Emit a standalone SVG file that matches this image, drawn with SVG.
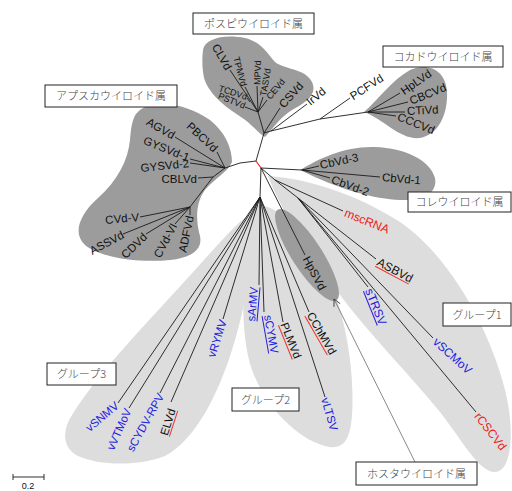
<svg xmlns="http://www.w3.org/2000/svg" width="512" height="491" viewBox="0 0 512 491">
<defs>
<style>
.dk{fill:#9c9c9c}
.lt{fill:#dddddd}
.ln{stroke:#1a1a1a;stroke-width:0.9;fill:none}
.t{font-family:"Liberation Sans",Arial,sans-serif;font-size:11.5px;fill:#111}
.s{font-size:9px}
.g{font-size:12px}
.b{fill:#2020e0}
.r{fill:#ee2020}
.box{fill:#fff;stroke:#222;stroke-width:1}
.jp{font-family:"Noto Sans CJK JP",sans-serif;font-size:11px;fill:#444;font-weight:300}
.ur{stroke:#ee3030;stroke-width:1}
.ub{stroke:#2020e0;stroke-width:1}
</style>
<marker id="ah" markerWidth="8" markerHeight="8" refX="7" refY="4" orient="auto" markerUnits="userSpaceOnUse">
<path d="M0,0.5 L7,4 L0,7.5" fill="none" stroke="#333" stroke-width="0.8"/>
</marker>
</defs>
<rect width="512" height="491" fill="#fff"/>
<g id="blobs">
<path id="g1blob" class="lt" d="M268,176 C300,178 350,190 400,222 C450,256 490,330 505,390 C515,430 512,470 496,472 C480,474 462,440 440,412 C410,375 370,335 340,295 C315,262 285,220 268,176 Z"/>
<path id="g2blob" class="lt" d="M258,205 C275,205 300,225 325,270 C345,310 355,370 352,415 C350,445 340,450 325,446 C295,438 265,405 252,370 C240,335 242,280 248,240 C250,220 252,208 258,205 Z"/>
<path id="g3blob" class="lt" d="M252,212 C256,240 248,300 232,350 C218,395 195,440 165,456 C140,466 100,466 78,456 C62,448 62,430 72,415 C100,370 150,320 195,270 C220,242 240,220 252,212 Z"/>
<path id="apsblob" class="dk" d="M136,114 C148,98 185,102 210,120 C225,132 232,148 232,162 C228,172 215,178 205,190 C195,203 196,222 200,236 C203,250 190,258 170,260 C140,263 100,258 85,245 C72,233 80,214 98,198 C118,180 128,160 130,140 C131,128 132,120 136,114 Z"/>
<path id="posblob" class="dk" d="M203,50 C205,38 225,34 245,38 C262,42 268,55 275,62 C285,70 305,68 312,82 C318,95 305,103 292,110 C280,117 272,130 265,137 C258,133 250,122 238,115 C222,105 208,92 204,78 C202,68 202,58 203,50 Z"/>
<path id="cocblob" class="dk" d="M364,112 C378,100 392,80 410,70 C428,62 446,70 447,92 C448,115 438,135 420,138 C400,140 385,120 364,112 Z"/>
<path id="colblob" class="dk" d="M300,170 C320,158 345,146 375,147 C405,148 430,160 435,178 C438,195 420,201 400,200 C375,199 340,190 300,170 Z"/>
<ellipse id="hpblob" class="dk" cx="307" cy="255" rx="54" ry="15" transform="rotate(57 307 255)"/>
</g>
<g id="connectors">
<line x1="256" y1="161" x2="261" y2="168" stroke="#ee2020" stroke-width="1.2"/>
<path class="ln" d="M256,161 L264,133 M264,133 L258,112 M264,133 L280,108 M264,133 L271,131 L307,104 M271,131 L320,119 L350,98 M320,119 L368,112"/>
<path class="ln" d="M368,112 L400,93 M368,112 L408,102 M368,112 L405,112 M368,112 L396,116"/>
<path class="ln" d="M258,112 L230,70 M258,112 L245,87 M258,112 L257,86 M258,112 L263,97 M258,112 L267,100 M250,102 L247,98 M258,112 L245,107"/>
<path class="ln" d="M256,161 L240,163 L225,168 M225,168 L217,152 M225,168 L175,137 M225,168 L190,159 M225,168 L190,163 M225,168 L213,177 L198,178 M213,177 L190,207 M190,207 L140,217 M190,207 L123,234 M190,207 L146,234 M190,207 L175,224 M190,207 L190,215"/>
<path class="ln" d="M261,168 L302,170 L319,166 M302,170 L380,177 M302,170 L330,178"/>
<path class="ln" d="M261,168 L275,180 L343,211 M275,180 L298,198 L376,259 M298,198 L368,287 M298,198 L433,338 M298,198 L476,412"/>
<path class="ln" d="M261,168 L305,255"/>
<path class="ln" d="M261,168 L260,197 M260,197 L223,319 M260,197 L118,403 M260,197 L129,408 M260,197 L160,393 M260,197 L171,402"/>
<path class="ln" d="M260,197 L259,285 M260,197 L264,312 M260,197 L283,322 M260,197 L309,312 M260,197 L325,397"/>
<line x1="415" y1="462" x2="334" y2="299" stroke="#555" stroke-width="0.7" marker-end="url(#ah)"/>
</g>
<g id="labels-pos">
<text class="t" transform="translate(229,69) rotate(60)" text-anchor="end" dy=".35em">CLVd</text>
<text class="t s" transform="translate(244,86) rotate(75)" text-anchor="end" dy=".35em">TPMVd</text>
<text class="t s" transform="translate(257,85) rotate(-88)" text-anchor="start" dy=".35em">MPVd</text>
<text class="t s" transform="translate(263,96) rotate(-80)" text-anchor="start" dy=".35em">TASVd</text>
<text class="t s" transform="translate(268,98) rotate(-50)" text-anchor="start" dy=".35em">CEVd</text>
<text class="t" transform="translate(281,106) rotate(-48)" text-anchor="start" dy=".35em">CSVd</text>
<text class="t s" transform="translate(247,97) rotate(18)" text-anchor="end" dy=".35em">TCDVd</text>
<text class="t s" transform="translate(245,106) rotate(22)" text-anchor="end" dy=".35em">PSTVd</text>
<text class="t" transform="translate(308,103) rotate(-40)" text-anchor="start" dy=".35em">IrVd</text>
</g>
<g id="labels-coc">
<text class="t" transform="translate(351,97) rotate(-33)" dy=".35em">PCFVd</text>
<text class="t" transform="translate(402,92) rotate(-35)" dy=".35em">HpLVd</text>
<text class="t" transform="translate(410,101) rotate(-22)" dy=".35em">CBCVd</text>
<text class="t" transform="translate(407,111) rotate(-3)" dy=".35em">CTiVd</text>
<text class="t" transform="translate(398,116) rotate(22)" dy=".35em">CCCVd</text>
</g>
<g id="labels-col">
<text class="t" transform="translate(320,165) rotate(-12)" dy=".35em">CbVd-3</text>
<text class="t" transform="translate(382,177) rotate(5)" dy=".35em">CbVd-1</text>
<text class="t" transform="translate(332,179) rotate(20)" dy=".35em">CbVd-2</text>
</g>
<g id="labels-aps">
<text class="t" transform="translate(216,150) rotate(43)" text-anchor="end" dy=".35em">PBCVd</text>
<text class="t" transform="translate(174,136) rotate(30)" text-anchor="end" dy=".35em">AGVd</text>
<text class="t" transform="translate(189,158) rotate(22)" text-anchor="end" dy=".35em">GYSVd-1</text>
<text class="t" transform="translate(189,163) rotate(-6)" text-anchor="end" dy=".35em">GYSVd-2</text>
<text class="t" transform="translate(197,179)" text-anchor="end" dy=".35em">CBLVd</text>
<text class="t" transform="translate(139,217) rotate(-5)" text-anchor="end" dy=".35em">CVd-V</text>
<text class="t" transform="translate(123,234) rotate(-28)" text-anchor="end" dy=".35em">ASSVd</text>
<text class="t" transform="translate(145,235) rotate(-44)" text-anchor="end" dy=".35em">CDVd</text>
<text class="t" transform="translate(174,224) rotate(-62)" text-anchor="end" dy=".35em">CVd-VI</text>
<text class="t" transform="translate(190,216) rotate(-78)" text-anchor="end" dy=".35em">ADFVd</text>
</g>
<g id="labels-g1">
<text class="t g r" transform="translate(345,212) rotate(22)" dy=".35em">mscRNA</text>
<g transform="translate(378,261) rotate(28)"><text class="t g" dy=".35em">ASBVd</text><line class="ur" x1="0" y1="6" x2="38" y2="6"/></g>
<g transform="translate(369,289) rotate(68)"><text class="t g b" dy=".35em">sTRSV</text><line class="ub" x1="0" y1="6" x2="37" y2="6"/></g>
<text class="t g b" transform="translate(435,340) rotate(42)" dy=".35em">vSCMoV</text>
<text class="t g r" transform="translate(477,414) rotate(52)" dy=".35em">rCSCVd</text>
<text class="t" transform="translate(306,257) rotate(62)" dy=".35em">HpSVd</text>
</g>
<g id="labels-g2">
<g transform="translate(254,287) rotate(-85)"><text class="t b" text-anchor="end" dy=".35em">sArMV</text><line class="ub" x1="-34" y1="6" x2="0" y2="6"/></g>
<g transform="translate(268,315) rotate(80)"><text class="t b" dy=".35em">sCYMV</text><line class="ub" x1="0" y1="6" x2="38" y2="6"/></g>
<g transform="translate(284,323) rotate(68)"><text class="t" dy=".35em">PLMVd</text><line class="ur" x1="0" y1="6" x2="37" y2="6"/></g>
<g transform="translate(310,313) rotate(60)"><text class="t" dy=".35em">CChMVd</text><line class="ur" x1="0" y1="6" x2="45" y2="6"/></g>
<text class="t b" transform="translate(325,398) rotate(74)" dy=".35em">vLTSV</text>
</g>
<g id="labels-g3">
<text class="t b" transform="translate(223,320) rotate(-72)" text-anchor="end" dy=".35em">vRYMV</text>
<text class="t b" transform="translate(117,404) rotate(-40)" text-anchor="end" dy=".35em">vSNMV</text>
<text class="t b" transform="translate(128,409) rotate(-66)" text-anchor="end" dy=".35em">vVTMoV</text>
<text class="t b" transform="translate(161,394) rotate(-61)" text-anchor="end" dy=".35em">sCYDV-RPV</text>
<g transform="translate(172,409) rotate(-72)"><text class="t" text-anchor="end" dy=".35em">ELVd</text><line class="ur" x1="-27" y1="6" x2="0" y2="6"/></g>
</g>
<g id="box-pos"><rect class="box" x="193" y="13" width="121" height="21"/><text class="jp" x="253.5" y="27.5" text-anchor="middle">ポスピウイロイド属</text></g>
<g id="box-coc"><rect class="box" x="383" y="46" width="120" height="21"/><text class="jp" x="443" y="60.5" text-anchor="middle">コカドウイロイド属</text></g>
<g id="box-aps"><rect class="box" x="45" y="85" width="132" height="22"/><text class="jp" x="111" y="100" text-anchor="middle">アプスカウイロイド属</text></g>
<g id="box-col"><rect class="box" x="408" y="192" width="103" height="20"/><text class="jp" x="459.5" y="206" text-anchor="middle">コレウイロイド属</text></g>
<g id="box-g1"><rect class="box" x="443" y="303" width="68" height="23"/><text class="jp" x="477" y="318.5" text-anchor="middle">グループ1</text></g>
<g id="box-g2"><rect class="box" x="232" y="388" width="67" height="23"/><text class="jp" x="265.5" y="403.5" text-anchor="middle">グループ2</text></g>
<g id="box-g3"><rect class="box" x="47" y="363" width="69" height="22"/><text class="jp" x="81.5" y="378" text-anchor="middle">グループ3</text></g>
<g id="box-hos"><rect class="box" x="356" y="462" width="121" height="23"/><text class="jp" x="416.5" y="477.5" text-anchor="middle">ホスタウイロイド属</text></g>
<g id="scale">
<path class="ln" d="M13,477 L44,477 M13,474 L13,480 M44,474 L44,480"/>
<text class="t" x="28" y="489" text-anchor="middle" style="font-size:9px">0.2</text>
</g>
</svg>
